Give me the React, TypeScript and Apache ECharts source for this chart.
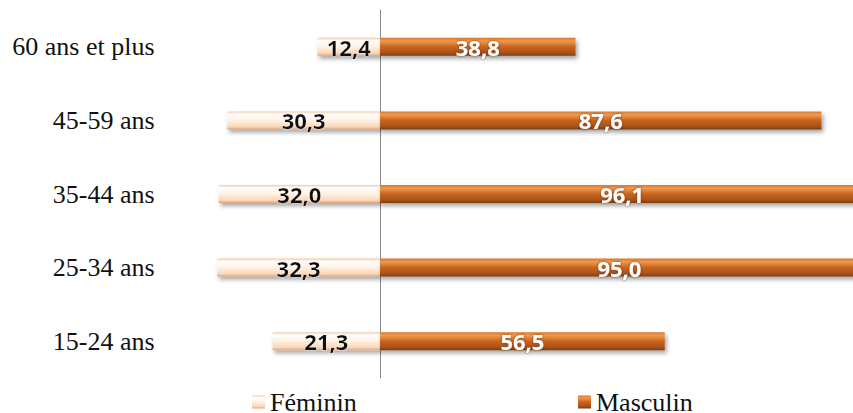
import React, { useEffect, useRef } from "react";
import * as echarts from "echarts";

const categories = ["15-24 ans", "25-34 ans", "35-44 ans", "45-59 ans", "60 ans et plus"];
const feminin = [21.3, 32.3, 32.0, 30.3, 12.4];
const masculin = [56.5, 95.0, 96.1, 87.6, 38.8];

const fmt = (v: number) => Math.abs(v).toFixed(1).replace(".", ",");

export default function App() {
  const ref = useRef<HTMLDivElement>(null);
  useEffect(() => {
    if (!ref.current) return;
    const chart = echarts.init(ref.current, null, { renderer: "svg" });
    const femGrad = new echarts.graphic.LinearGradient(0, 0, 0, 1, [
      { offset: 0, color: "#F4C9A6" },
      { offset: 0.15, color: "#FFFFFF" },
      { offset: 0.5, color: "#FFF1E2" },
      { offset: 0.85, color: "#FAD6B8" },
      { offset: 1, color: "#DDA47A" },
    ]);
    const mascGrad = new echarts.graphic.LinearGradient(0, 0, 0, 1, [
      { offset: 0, color: "#D8772F" },
      { offset: 0.18, color: "#F0994F" },
      { offset: 0.5, color: "#C8651E" },
      { offset: 0.85, color: "#A5511A" },
      { offset: 1, color: "#7A3A0E" },
    ]);
    const shadow = {
      shadowColor: "rgba(0,0,0,0.35)",
      shadowBlur: 4,
      shadowOffsetX: 2,
      shadowOffsetY: 3,
    };
    const legendText = { fontFamily: "Liberation Serif", fontSize: 26, color: "#111" };
    chart.setOption({
      animation: false,
      grid: { left: 77.6, right: -31, top: 10, bottom: 35, containLabel: false, outerBoundsMode: "none" },
      xAxis: {
        type: "value",
        min: -60,
        max: 100,
        show: false,
      },
      yAxis: {
        type: "category",
        data: categories,
        axisLine: { show: true, onZero: true, lineStyle: { color: "#8a8a8a", width: 1 } },
        axisTick: { show: false },
        axisLabel: {
          margin: -77,
          color: "#111",
          fontFamily: "Liberation Serif",
          fontSize: 26,
        },
        splitLine: { show: false },
      },
      legend: [
        {
          data: ["Féminin"],
          left: 247,
          top: 384,
          itemWidth: 13,
          itemHeight: 13,
          itemGap: 5,
          icon: "rect",
          textStyle: legendText,
        },
        {
          data: ["Masculin"],
          left: 573,
          top: 384,
          itemWidth: 13,
          itemHeight: 13,
          icon: "rect",
          textStyle: legendText,
        },
      ],
      series: [
        {
          name: "Féminin",
          type: "bar",
          stack: "total",
          barWidth: 18,
          data: feminin.map((v) => -v),
          itemStyle: { color: femGrad, ...shadow },
          label: {
            show: true,
            position: "inside",
            formatter: (p: any) => fmt(p.value),
            fontFamily: "Open Sans",
            fontWeight: "bold",
            fontSize: 22,
            color: "#111",
            textShadowColor: "rgba(255,255,255,0.8)",
            textShadowBlur: 2,
          },
        },
        {
          name: "Masculin",
          type: "bar",
          stack: "total",
          barWidth: 18,
          data: masculin,
          itemStyle: { color: mascGrad, ...shadow },
          label: {
            show: true,
            position: "inside",
            formatter: (p: any) => fmt(p.value),
            fontFamily: "Open Sans",
            fontWeight: "bold",
            fontSize: 22,
            color: "#FFFFFF",
            textShadowColor: "rgba(80,30,0,0.7)",
            textShadowBlur: 2,
          },
        },
      ],
    });
    return () => chart.dispose();
  }, []);
  return (
    <div
      ref={ref}
      style={{ position: "fixed", left: 0, top: 0, width: 853, height: 413, background: "#fff" }}
    />
  );
}
